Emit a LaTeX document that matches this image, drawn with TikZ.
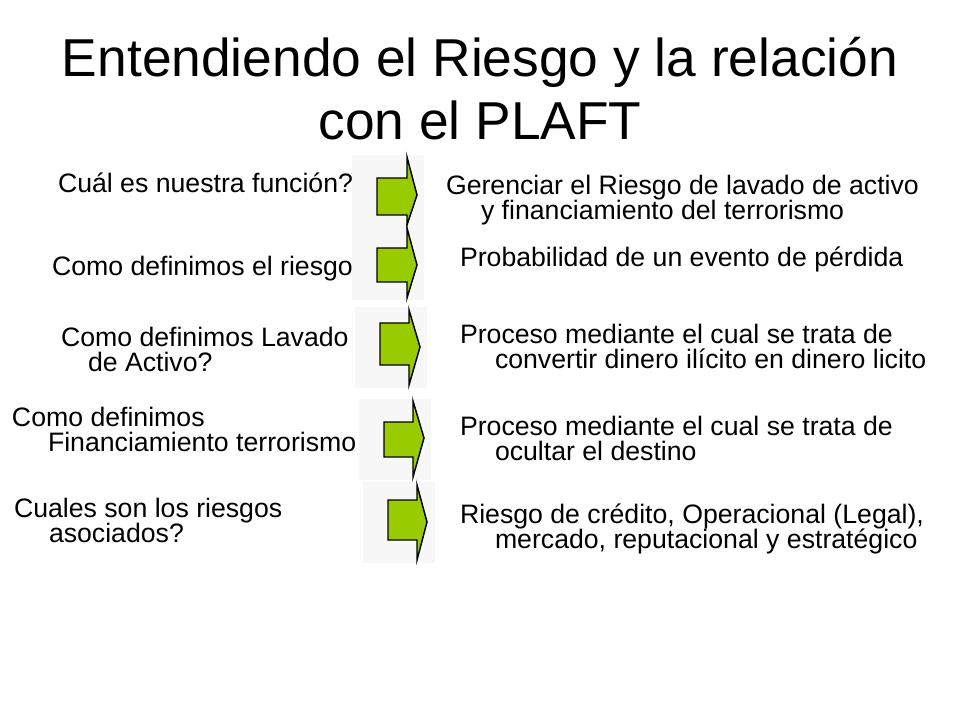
\documentclass[tikz,border=0pt]{standalone}
\usepackage{fontspec}
\setmainfont{Liberation Sans}
\definecolor{argreen}{HTML}{99CC00}
\definecolor{bggray}{HTML}{F7F7F7}
\tikzset{
  px/.style={x=0.75pt,y=-0.75pt},
  txt/.style={anchor=base west,inner sep=0pt,outer sep=0pt,font=\fontsize{20}{20}\selectfont},
  ttl/.style={anchor=base,inner sep=0pt,outer sep=0pt,font=\fontsize{40}{40}\selectfont},
  bgbox/.style={fill=bggray,draw=none},
  garrow/.style={fill=argreen,draw=black,line width=1.1pt,line join=miter}
}
\newcommand{\grarrow}[8]{%
  \draw[garrow] (#1,#2) -- (#4,#2) -- (#4,#5) -- (#7,#8) -- (#4,#6) -- (#4,#3) -- (#1,#3) -- cycle;}
\begin{document}
\begin{tikzpicture}[px]
\useasboundingbox[fill=white] (0,0) rectangle (960,720);
% title
\node[ttl] (t1) at (480,77) {Entendiendo el Riesgo y la relación};
\node[ttl] (t2) at (480,140) {con el PLAFT};
% left questions
\node[txt] (q1) at (58,193) {Cuál es nuestra función?};
\node[txt] (q2) at (52,276) {Como definimos el riesgo};
\node[txt] (q3a) at (61,346) {Como definimos Lavado};
\node[txt] (q3b) at (88,371) {de Activo?};
\node[txt] (q4a) at (12,426) {Como definimos};
\node[txt] (q4b) at (48,451) {Financiamiento terrorismo};
\node[txt] (q5a) at (14,517) {Cuales son los riesgos};
\node[txt] (q5b) at (49,542) {asociados?};
% arrow backgrounds
\fill[bgbox] (352,155) rectangle (424,228);
\fill[bgbox] (352,228) rectangle (424,300);
\fill[bgbox] (355,307) rectangle (427,388);
\fill[bgbox] (359,399) rectangle (431,480);
\fill[bgbox] (363,482) rectangle (435,563);
% arrows: body-left, body-top, body-bottom, head-x, head-top, head-bottom, tip-x, tip-y
\grarrow{377}{178}{215}{407}{157}{225}{417}{195}
\grarrow{377}{248}{282}{407}{228}{298}{417}{265}
\grarrow{380}{323}{365}{409}{310}{385}{420}{347}
\grarrow{384}{422}{457}{413}{401}{477}{424}{438}
\grarrow{388}{500}{540}{417}{485}{560}{427}{522}
% right answers
\node[txt] (a1a) at (446,195) {Gerenciar el Riesgo de lavado de activo};
\node[txt] (a1b) at (481,220) {y financiamiento del terrorismo};
\node[txt] (a2) at (460,267) {Probabilidad de un evento de pérdida};
\node[txt] (a3a) at (460,343) {Proceso mediante el cual se trata de};
\node[txt] (a3b) at (495,368) {convertir dinero ilícito en dinero licito};
\node[txt] (a4a) at (460,435) {Proceso mediante el cual se trata de};
\node[txt] (a4b) at (495,460) {ocultar el destino};
\node[txt] (a5a) at (460,523) {Riesgo de crédito, Operacional (Legal),};
\node[txt] (a5b) at (495,548) {mercado, reputacional y estratégico};
\end{tikzpicture}
\end{document}
